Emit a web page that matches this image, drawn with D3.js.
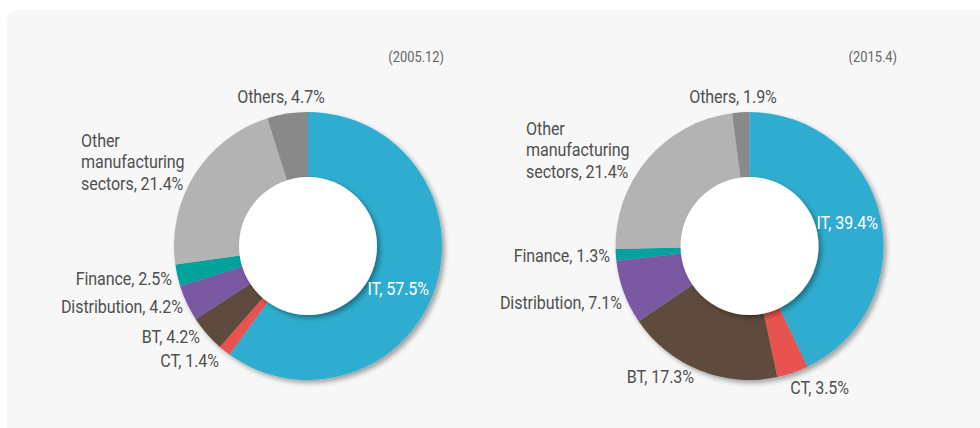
<!DOCTYPE html>
<html>
<head>
<meta charset="utf-8">
<script src="https://cdn.jsdelivr.net/npm/d3@7"></script>
<style>
  html, body { margin: 0; padding: 0; background: #fff; }
  svg text { font-family: Roboto, "Liberation Sans", sans-serif; }
</style>
</head>
<body>
<svg id="chart" width="980" height="428"></svg>
<script>
// sectors, clockwise from 12 o'clock
const sectors = ['IT', 'CT', 'BT', 'Distribution', 'Finance', 'Other manufacturing sectors', 'Others'];
const colors = ['#2eadd0', '#e8534f', '#5e4c3d', '#7a58a2', '#00a39b', '#b3b3b3', '#898989'];

const values2005 = [57.5, 1.4, 4.2, 4.2, 2.5, 21.4, 4.7];
const values2015 = [39.4, 3.5, 17.3, 7.1, 1.3, 21.4, 1.9];
const dates = ['(2005.12)', '(2015.4)'];

// label placement (x, y, anchor) for each chart
const labelPos2005 = [
  [429, 295, 'end'], [219, 367, 'end'], [200, 343, 'end'], [183, 313, 'end'],
  [172, 285, 'end'], [81, 147, 'start'], [281, 103, 'middle']
];
const labelPos2015 = [
  [878, 229, 'end'], [849, 394, 'end'], [694, 383, 'end'], [622, 309, 'end'],
  [610, 262, 'end'], [526, 135, 'start'], [733, 103, 'middle']
];

const svg = d3.select('#chart');

// panel background
svg.append('rect')
  .attr('x', 7).attr('y', 10)
  .attr('width', 1000).attr('height', 440)
  .attr('rx', 11)
  .attr('fill', '#f7f7f7');

const defs = svg.append('defs');
const f = defs.append('filter').attr('id', 'shadow')
  .attr('x', '-20%').attr('y', '-20%').attr('width', '150%').attr('height', '150%');
f.append('feDropShadow')
  .attr('dx', 3).attr('dy', 3).attr('stdDeviation', 2.5)
  .attr('flood-color', '#000').attr('flood-opacity', 0.35);

const outerR = 134, innerR = 69;
const sx = 0.92; // squeeze text a bit, the original face is condensed

const charts = [
  { cx: 308, cy: 246, values: values2005, labels: labelPos2005, date: dates[0], dateX: 444 },
  { cx: 749.5, cy: 246, values: values2015, labels: labelPos2015, date: dates[1], dateX: 897 }
];

const pie = d3.pie().sort(null).value(d => d);
const arc = d3.arc().innerRadius(0).outerRadius(outerR);

charts.forEach(c => {
  const g = svg.append('g').attr('transform', `translate(${c.cx},${c.cy})`);

  const pieG = g.append('g').attr('filter', 'url(#shadow)');
  pieG.selectAll('path')
    .data(pie(c.values))
    .enter().append('path')
    .attr('d', arc)
    .attr('fill', (d, i) => colors[i]);

  g.append('circle')
    .attr('r', innerR)
    .attr('fill', '#fff')
    .attr('filter', 'url(#shadow)');

  // date
  svg.append('text')
    .attr('transform', `translate(${c.dateX},62) scale(${sx},1)`)
    .attr('text-anchor', 'end')
    .attr('font-size', 14)
    .attr('fill', '#666')
    .text(c.date);

  // labels
  c.values.forEach((v, i) => {
    const [x, y, anchor] = c.labels[i];
    const t = svg.append('text')
      .attr('transform', `translate(${x},${y}) scale(${sx},1)`)
      .attr('text-anchor', anchor)
      .attr('font-size', 17.5)
      .attr('letter-spacing', -0.1)
      .attr('fill', i === 0 ? '#fff' : '#4f4f4f');
    if (i === 5) {
      const lines = ['Other', 'manufacturing', `sectors, ${v}%`];
      lines.forEach((ln, k) => {
        t.append('tspan').attr('x', 0).attr('dy', k === 0 ? 0 : 21.5).text(ln);
      });
    } else {
      t.text(`${sectors[i]}, ${v}%`);
    }
  });
});
</script>
</body>
</html>
